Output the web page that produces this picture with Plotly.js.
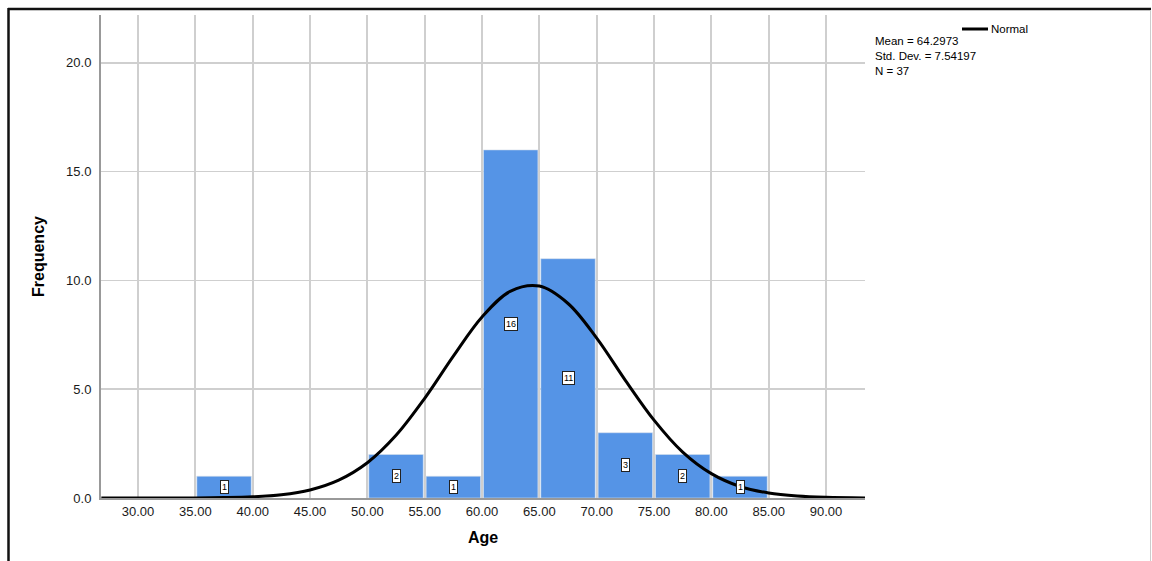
<!DOCTYPE html>
<html>
<head>
<meta charset="utf-8">
<script src="https://cdn.plot.ly/plotly-3.0.1.min.js"></script>
<style>html,body{margin:0;padding:0;background:#fff;}#chart{width:1152px;height:561px;}</style>
</head>
<body>
<div id="chart"></div>
<script>
// Histogram bins (centres) and frequencies
const binCenters = [37.5, 52.5, 57.5, 62.5, 67.5, 72.5, 77.5, 82.5];
const frequencies = [1, 2, 1, 16, 11, 3, 2, 1];
// Normal curve points
const curveX = [26.8, 30, 32.5, 35, 37.5, 40, 42.5, 45, 47.5, 50, 52.5, 55, 57.5, 60, 62.5, 65, 67.5, 70, 72.5, 75, 77.5, 80, 82.5, 85, 87.5, 90, 93.4];
const curveY = [0.0, 0.0, 0.001, 0.005, 0.018, 0.055, 0.15, 0.37, 0.82, 1.62, 2.88, 4.58, 6.52, 8.32, 9.51, 9.74, 8.94, 7.35, 5.41, 3.58, 2.11, 1.12, 0.53, 0.23, 0.09, 0.03, 0.0];
const xTickVals = [30, 35, 40, 45, 50, 55, 60, 65, 70, 75, 80, 85, 90];
const xTickText = ["30.00","35.00","40.00","45.00","50.00","55.00","60.00","65.00","70.00","75.00","80.00","85.00","90.00"];
const yTickVals = [0, 5, 10, 15, 20];
const yTickText = ["0.0","5.0","10.0","15.0","20.0"];
const statsLines = ["Mean = 64.2973", "Std. Dev. = 7.54197", "N = 37"];
const legendName = "Normal";

const FONT = "Liberation Sans, Arial, sans-serif";
const L = 101, R = 865, T = 15, B = 498, W = 1152, H = 561;
const px = v => (v - L) / (R - L);
const py = v => (B - v) / (B - T);

const traces = [
  {
    type: "bar", x: binCenters, y: frequencies, width: 4.75,
    marker: {color: "rgb(85,148,230)", line: {color: "rgb(215,225,235)", width: 0.6}},
    hoverinfo: "x+y", showlegend: false
  },
  {
    type: "scatter", mode: "lines", x: curveX, y: curveY,
    line: {color: "#000", width: 3, shape: "spline", smoothing: 1},
    showlegend: false, cliponaxis: false
  }
];

const annotations = binCenters.map((c, i) => ({
  x: c, y: frequencies[i] / 2, xref: "x", yref: "y",
  text: String(frequencies[i]), showarrow: false,
  font: {family: FONT, size: 9, color: "#000"},
  bgcolor: "#fff", bordercolor: "#222", borderwidth: 1, borderpad: 1
}));
annotations.push({
  xref: "paper", yref: "paper", x: px(873), y: py(33), xanchor: "left", yanchor: "top",
  align: "left", showarrow: false, text: statsLines.join("<br>"),
  font: {family: FONT, size: 11.5, color: "#000"}
});
annotations.push({
  xref: "paper", yref: "paper", x: px(989), y: py(29), xanchor: "left", yanchor: "middle",
  showarrow: false, text: legendName, font: {family: FONT, size: 11.5, color: "#000"}
});

const shapes = [
  {type: "line", xref: "paper", yref: "paper", x0: px(962), x1: px(988), y0: py(29), y1: py(29), line: {color: "#000", width: 3}},
  // outer frame
  {type: "line", xref: "paper", yref: "paper", x0: px(8), x1: px(1151), y0: py(9), y1: py(9), line: {color: "#111", width: 2.5}},
  {type: "line", xref: "paper", yref: "paper", x0: px(8.5), x1: px(8.5), y0: py(8), y1: py(561), line: {color: "#111", width: 2.5}},
  {type: "line", xref: "paper", yref: "paper", x0: px(1150.5), x1: px(1150.5), y0: py(10), y1: py(561), line: {color: "#ccc", width: 1}}
];

const layout = {
  width: W, height: H,
  margin: {l: L, r: W - R, t: T, b: H - B, pad: 0},
  paper_bgcolor: "#fff", plot_bgcolor: "#fff",
  font: {family: FONT, color: "#000"},
  xaxis: {
    range: [26.77, 93.4], tickvals: xTickVals, ticktext: xTickText,
    showgrid: true, gridcolor: "#cfcfcf", gridwidth: 2, zeroline: false,
    showline: true, linecolor: "#999", linewidth: 2, ticks: "",
    tickfont: {family: FONT, size: 13, color: "#1a1a1a"},
    title: {text: "<b>Age</b>", font: {family: FONT, size: 16, color: "#000"}, standoff: 14}
  },
  yaxis: {
    range: [0, 22.2], tickvals: yTickVals, ticktext: yTickText,
    showgrid: true, gridcolor: "#cfcfcf", gridwidth: 1.5, zeroline: false,
    showline: true, linecolor: "#999", linewidth: 2, ticks: "", ticklabelstandoff: 5,
    tickfont: {family: FONT, size: 13, color: "#1a1a1a"},
    title: {text: "<b>Frequency</b>", font: {family: FONT, size: 16, color: "#000"}, standoff: 17}
  },
  annotations: annotations, shapes: shapes, showlegend: false
};

Plotly.newPlot("chart", traces, layout, {displayModeBar: false, staticPlot: true});
</script>
</body>
</html>
